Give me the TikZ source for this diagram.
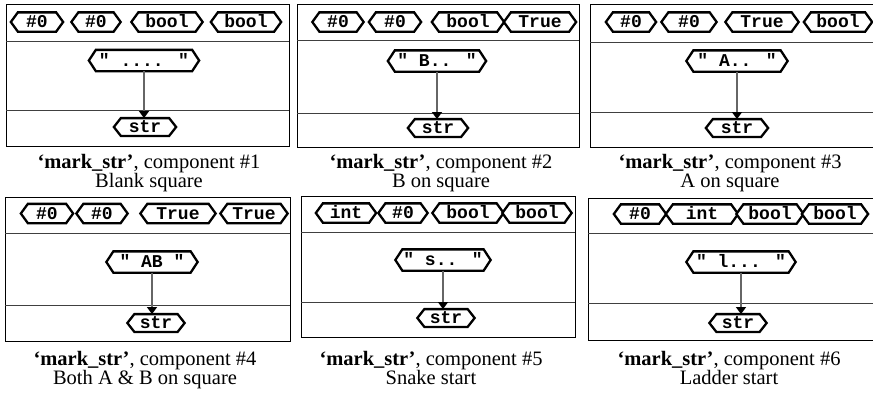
\documentclass[tikz,border=0pt]{standalone}
\usepackage{fontspec}
\setmainfont{Liberation Serif}
\newfontfamily\hxfamily{Liberation Mono}
\usetikzlibrary{arrows.meta}
\makeatletter
\newdimen\hbxl \newdimen\hbxr \newdimen\hbym
\def\hexslant{7pt}
\pgfdeclareshape{hexbox}{
  \inheritsavedanchors[from=rectangle]
  \inheritanchorborder[from=rectangle]
  \inheritanchor[from=rectangle]{center}
  \inheritanchor[from=rectangle]{north}
  \inheritanchor[from=rectangle]{south}
  \inheritanchor[from=rectangle]{east}
  \inheritanchor[from=rectangle]{west}
  \inheritanchor[from=rectangle]{base}
  \inheritanchor[from=rectangle]{mid}
  \inheritanchor[from=rectangle]{text}
  \backgroundpath{
    \southwest \pgf@xa=\pgf@x \pgf@ya=\pgf@y
    \northeast \pgf@xb=\pgf@x \pgf@yb=\pgf@y
    \hbym=\pgf@ya \advance\hbym by \pgf@yb \divide\hbym by 2
    \hbxl=\pgf@xa \advance\hbxl by \hexslant
    \hbxr=\pgf@xb \advance\hbxr by -\hexslant
    \pgfpathmoveto{\pgfqpoint{\pgf@xa}{\hbym}}
    \pgfpathlineto{\pgfqpoint{\hbxl}{\pgf@yb}}
    \pgfpathlineto{\pgfqpoint{\hbxr}{\pgf@yb}}
    \pgfpathlineto{\pgfqpoint{\pgf@xb}{\hbym}}
    \pgfpathlineto{\pgfqpoint{\hbxr}{\pgf@ya}}
    \pgfpathlineto{\pgfqpoint{\hbxl}{\pgf@ya}}
    \pgfpathclose
  }
}
\makeatother
\tikzset{
  hx/.style={shape=hexbox, draw=black, line width=2.3pt, fill=white,
    inner xsep=2pt, inner ysep=0pt, text height=12pt, text depth=1pt,
    font=\hxfamily\bfseries\fontsize{18}{18}\selectfont, line join=miter},
  topn/.style={hx, minimum height=17pt},
  midn/.style={hx, minimum height=19pt},
  strn/.style={hx, minimum height=15.5pt},
  panel/.style={draw=black, line width=1pt},
  divider/.style={draw=black!75, line width=1pt},
  conn/.style={draw=black!60, line width=1.1pt, -{Triangle[width=10pt,length=7pt,color=black]}},
  captext/.style={anchor=base, inner sep=0pt, font=\fontsize{20.5}{20.5}\selectfont}
}
\begin{document}
\begin{tikzpicture}[x=1pt,y=-1pt]
\useasboundingbox (0,0) rectangle (873,394);
% ---------- Panel 1
\draw[panel] (6,4) rectangle (289,146);
\draw[divider] (6,41) -- (289,41);
\draw[divider] (6,110) -- (289,110);
\node[topn, minimum width=50pt] (p1a) at (37,22) {\#0};
\node[topn, minimum width=47pt] (p1b) at (96,22) {\#0};
\node[topn, minimum width=69pt] (p1c) at (167,22) {bool};
\node[topn, minimum width=68pt] (p1d) at (246,22) {bool};
\node[midn, minimum width=108pt] (p1m) at (144,60.5) {" .... "};
\node[strn, minimum width=60pt] (p1s) at (145,127) {str};
\draw[conn] (p1m.south) -- (p1m.south |- p1s.north);
\node[captext] (c1a) at (149,168) {\textbf{‘mark\_str’}, component \#1};
\node[captext] (c1b) at (149,187) {Blank square};
% ---------- Panel 2
\draw[panel] (297,4) rectangle (579,147);
\draw[divider] (297,40) -- (579,40);
\draw[divider] (297,113) -- (579,113);
\node[topn, minimum width=49pt] (p2a) at (338,22) {\#0};
\node[topn, minimum width=50pt] (p2b) at (395,22) {\#0};
\node[topn, minimum width=70pt] (p2c) at (468,22) {bool};
\node[topn, minimum width=70pt] (p2d) at (540,22) {True};
\node[midn, minimum width=96pt] (p2m) at (437,61) {" B.. "};
\node[strn, minimum width=58pt] (p2s) at (438,128) {str};
\draw[conn] (p2m.south) -- (p2m.south |- p2s.north);
\node[captext] (c2a) at (441,168) {\textbf{‘mark\_str’}, component \#2};
\node[captext] (c2b) at (441,187) {B on square};
% ---------- Panel 3
\draw[panel] (590,4) rectangle (876,147);
\draw[divider] (590,42) -- (876,42);
\draw[divider] (590,112) -- (876,112);
\node[topn, minimum width=48pt] (p3a) at (631,22) {\#0};
\node[topn, minimum width=53pt] (p3b) at (689,22) {\#0};
\node[topn, minimum width=71pt] (p3c) at (762,22) {True};
\node[topn, minimum width=66pt] (p3d) at (838,22) {bool};
\node[midn, minimum width=99pt] (p3m) at (737,61) {" A.. "};
\node[strn, minimum width=60pt] (p3s) at (737,128) {str};
\draw[conn] (p3m.south) -- (p3m.south |- p3s.north);
\node[captext] (c3a) at (730,168) {\textbf{‘mark\_str’}, component \#3};
\node[captext] (c3b) at (730,187) {A on square};
% ---------- Panel 4
\draw[panel] (5,197) rectangle (290,341);
\draw[divider] (5,233) -- (290,233);
\draw[divider] (5,305) -- (290,305);
\node[topn, minimum width=50pt] (p4a) at (47,213.5) {\#0};
\node[topn, minimum width=49pt] (p4b) at (102,213.5) {\#0};
\node[topn, minimum width=73pt] (p4c) at (178,213.5) {True};
\node[topn, minimum width=65pt] (p4d) at (254,213.5) {True};
\node[midn, minimum width=89pt] (p4m) at (152,262) {" AB "};
\node[strn, minimum width=55pt] (p4s) at (156,323) {str};
\draw[conn] (p4m.south) -- (p4m.south |- p4s.north);
\node[captext] (c4a) at (145,365) {\textbf{‘mark\_str’}, component \#4};
\node[captext] (c4b) at (145,384) {Both A \& B on square};
% ---------- Panel 5
\draw[panel] (301,196) rectangle (575,337);
\draw[divider] (301,232) -- (575,232);
\draw[divider] (301,302) -- (575,302);
\node[topn, minimum width=58pt] (p5a) at (346,213) {int};
\node[topn, minimum width=47pt] (p5b) at (403,213) {\#0};
\node[topn, minimum width=69pt] (p5c) at (468,213) {bool};
\node[topn, minimum width=67pt] (p5d) at (537,213) {bool};
\node[midn, minimum width=93pt] (p5m) at (443,260) {" s.. "};
\node[strn, minimum width=55pt] (p5s) at (446,318) {str};
\draw[conn] (p5m.south) -- (p5m.south |- p5s.north);
\node[captext] (c5a) at (431,365) {\textbf{‘mark\_str’}, component \#5};
\node[captext] (c5b) at (431,384) {Snake start};
% ---------- Panel 6
\draw[panel] (588,198) rectangle (876,340);
\draw[divider] (588,233) -- (876,233);
\draw[divider] (588,303) -- (876,303);
\node[topn, minimum width=50pt] (p6a) at (640,214) {\#0};
\node[topn, minimum width=70pt] (p6b) at (702,214) {int};
\node[topn, minimum width=65pt] (p6c) at (770,214) {bool};
\node[topn, minimum width=64pt] (p6d) at (835,214) {bool};
\node[midn, minimum width=107pt] (p6m) at (741,262) {" l... "};
\node[strn, minimum width=55pt] (p6s) at (738,323) {str};
\draw[conn] (p6m.south) -- (p6m.south |- p6s.north);
\node[captext] (c6a) at (729,365) {\textbf{‘mark\_str’}, component \#6};
\node[captext] (c6b) at (729,384) {Ladder start};
\end{tikzpicture}
\end{document}
